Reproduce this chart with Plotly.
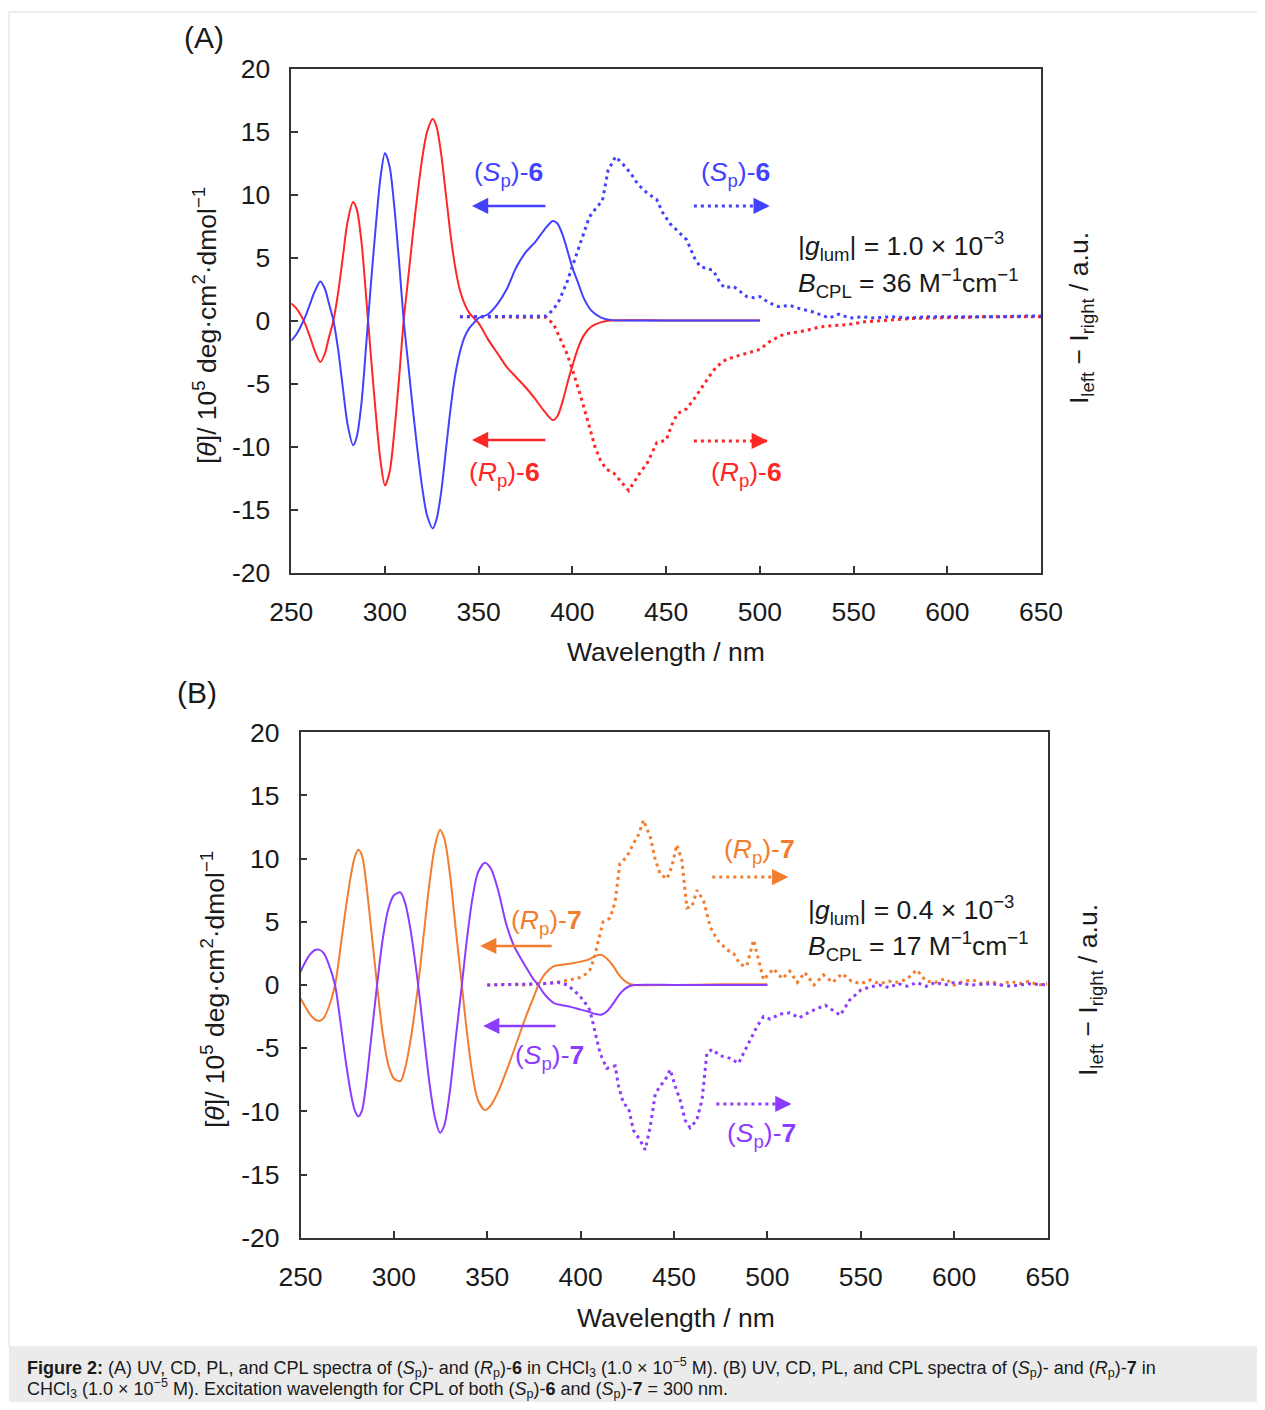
import plotly.graph_objects as go

# page is 1265x1410; the browser adds an 8px body margin, so the figure is made smaller
# and all page positions are converted to figure coordinates with an 8px offset
PAGE_W, PAGE_H, OFF = 1265, 1410, 8
W, H = PAGE_W - 2 * OFF, PAGE_H - 2 * OFF

# ---------------- data: panel A ----------------
cd6_wl = [250, 252.5, 255, 257.5, 260, 262.5, 265.5, 268, 270, 272.5, 275, 277.5, 280, 283, 285,
          287.5, 290, 292.5, 295, 297.5, 300, 302.5, 305, 307.5, 310, 312.5, 315, 317.5, 320, 322.5,
          325.5, 327.5, 330, 332.5, 335, 337.5, 340, 342.5, 345, 348, 350, 355, 360, 365, 370, 375,
          380, 385, 389.5, 392, 395, 398, 400, 403, 406, 410, 415, 420, 450, 475, 500]
cd_Rp6 = [1.35, 1.0, 0.45, -0.3, -1.3, -2.4, -3.3, -2.6, -1.4, 0.0, 2.2, 5.0, 7.8, 9.4, 8.8,
          6.2, 1.8, -2.8, -7.2, -11.0, -13.1, -12.0, -8.8, -4.6, 0.0, 3.5, 7.0, 10.2, 13.0, 15.0,
          16.0, 15.4, 13.2, 10.0, 6.8, 4.2, 2.4, 1.3, 0.6, 0.1, -0.2, -1.5, -2.6, -3.7, -4.5, -5.3,
          -6.2, -7.2, -7.9, -7.6, -6.3, -4.6, -3.6, -2.2, -1.2, -0.5, -0.15, 0.0, 0.0, 0.0, 0.0]
cd_Sp6 = [-1.6, -1.15, -0.5, 0.3, 1.3, 2.3, 3.1, 2.5, 1.4, 0.0, -2.3, -5.3, -8.2, -9.9, -9.2,
          -6.5, -1.9, 2.9, 7.3, 11.2, 13.3, 12.2, 9.0, 4.7, 0.0, -3.6, -7.2, -10.5, -13.4, -15.5,
          -16.5, -15.8, -13.6, -10.3, -7.0, -4.3, -2.5, -1.3, -0.6, -0.1, 0.2, 0.5, 1.3, 2.5, 4.2, 5.4,
          6.2, 7.2, 7.9, 7.7, 6.7, 5.2, 4.2, 3.0, 1.8, 0.8, 0.25, 0.05, 0.0, 0.0, 0.0]

cpl_Sp6_wl = [340, 350, 360, 370, 380, 386, 390, 393, 397, 400, 404, 409, 413, 416, 419, 423, 427,
              431, 435, 440, 445, 448, 452, 457, 461, 465, 468, 472, 475, 478, 481, 486, 490, 493,
              497, 500, 505, 510, 516, 522, 527, 532, 537, 542, 548, 555, 560, 570, 580, 590, 600,
              610, 620, 630, 640, 650]
cpl_Sp6 = [0.3, 0.3, 0.3, 0.3, 0.3, 0.35, 0.9, 1.6, 3.0, 4.3, 6.0, 8.2, 9.0, 9.5, 11.9, 13.0, 12.4,
           11.7, 10.8, 10.1, 9.6, 8.6, 7.7, 7.0, 6.4, 5.0, 4.3, 4.1, 4.0, 3.2, 2.6, 2.7, 2.2, 1.9,
           1.8, 1.9, 1.4, 1.1, 1.2, 0.9, 0.75, 0.5, 0.2, 0.5, 0.2, 0.3, 0.2, 0.3, 0.2, 0.3, 0.3,
           0.25, 0.3, 0.3, 0.35, 0.35]
cpl_Rp6_wl = [340, 350, 360, 370, 380, 386, 390, 393, 397, 400, 404, 409, 412, 415, 418, 422, 426,
              430, 433, 436, 440, 443, 445, 450, 453, 456, 461, 466, 469, 472, 475, 479, 482, 486,
              493, 500, 505, 511, 516, 521, 527, 532, 540, 548, 556, 564, 572, 580, 590, 600, 610,
              620, 630, 640, 650]
cpl_Rp6 = [0.3, 0.3, 0.3, 0.3, 0.3, 0.25, -0.3, -1.3, -2.6, -3.9, -5.8, -8.4, -10.0, -11.1, -11.8,
           -12.1, -12.8, -13.5, -12.8, -12.1, -11.3, -10.3, -9.7, -9.5, -8.3, -7.4, -7.0, -6.0, -5.3,
           -4.7, -4.0, -3.4, -3.1, -2.9, -2.6, -2.3, -1.7, -1.2, -1.0, -0.9, -0.7, -0.5, -0.4, -0.3,
           -0.1, 0.0, 0.1, 0.15, 0.2, 0.2, 0.25, 0.3, 0.3, 0.3, 0.3]

# ---------------- data: panel B ----------------
cd7_wl = [250, 252.5, 255, 257.5, 260, 262.5, 265, 268.5, 271, 274, 277, 279, 281, 283, 285, 288,
          291, 294, 297, 300, 303.5, 306, 309, 313, 316, 319, 322, 324.7, 327, 330, 333, 336.4, 339,
          342, 345, 348.8, 352, 356, 360, 364, 368, 372, 375, 377.4, 380, 383, 386, 390, 395, 400,
          404, 408, 411, 414, 417.5, 420, 423, 426, 429, 450, 475, 500]
cd_Rp7 = [-1.05, -1.7, -2.3, -2.7, -2.85, -2.6, -1.8, 0.0, 2.5, 5.8, 8.7, 10.1, 10.7, 10.2, 8.3, 4.2,
          0.0, -3.8, -6.3, -7.4, -7.6, -6.6, -4.3, 0.0, 4.0, 8.0, 11.0, 12.26, 11.6, 8.8, 4.6, 0.0, -3.6,
          -7.0, -9.1, -9.9, -9.5, -8.4, -6.9, -5.3, -3.6, -2.0, -0.9, 0.0, 0.7, 1.2, 1.5, 1.6, 1.7, 1.85,
          2.0, 2.3, 2.4, 2.1, 1.5, 0.9, 0.4, 0.1, 0.0, 0.0, 0.05, 0.05]
cd_Sp7 = [1.05, 1.8, 2.4, 2.75, 2.8, 2.5, 1.7, 0.0, -2.5, -5.8, -8.6, -9.9, -10.4, -9.9, -8.0, -4.0,
          0.0, 3.6, 6.0, 7.1, 7.33, 6.5, 4.3, 0.0, -3.9, -7.7, -10.5, -11.7, -11.1, -8.4, -4.4, 0.0, 3.5,
          6.8, 8.9, 9.68, 9.2, 7.4, 4.9, 3.2, 2.1, 1.1, 0.4, 0.0, -0.6, -1.1, -1.45, -1.6, -1.75, -1.95,
          -2.1, -2.3, -2.35, -2.1, -1.45, -0.9, -0.4, -0.1, 0.0, 0.0, 0.0, 0.0]

cpl_Rp7_wl = [350, 360, 370, 380, 386, 391, 396, 400, 403, 405, 407, 409.5, 412, 415.8, 418.5, 421,
              424.8, 428.3, 431, 433.7, 437.3, 440, 442.6, 446.2, 448.9, 451.5, 454.2, 456.9, 459.6,
              462.3, 465.8, 469.4, 473, 478.3, 481.9, 485.5, 489, 492.6, 496.2, 498, 503.3, 508, 512,
              516, 520, 525, 530, 535, 540, 545, 550, 555, 560, 565, 570, 575, 580, 585, 590, 595,
              600, 605, 610, 615, 620, 625, 630, 635, 640, 645, 650]
cpl_Rp7 = [0.0, 0.05, 0.0, 0.1, 0.2, 0.3, 0.5, 0.6, 0.9, 1.2, 2.0, 3.6, 5.0, 5.3, 6.6, 9.6,
           10.15, 11.2, 11.9, 13.05, 11.7, 9.9, 8.8, 8.4, 9.4, 11.1, 9.9, 6.1, 6.2,
           7.5, 6.7, 4.6, 3.6, 2.8, 2.5, 1.6, 1.5, 3.56, 1.5, 0.4, 1.3, 0.5, 1.1,
           0.2, 1.0, 0.0, 0.8, 0.2, 0.9, 0.3, 0.1, 0.4, 0.1, 0.3, 0.2, 0.5, 1.2, 0.3, 0.2, 0.5,
           0.0, 0.3, 0.4, 0.1, 0.3, 0.0, 0.3, 0.1, 0.3, 0.0, 0.1]
cpl_Sp7_wl = [350, 360, 370, 380, 388, 393, 397, 401.5, 405, 407.8, 410.4, 414, 418.5, 420.3, 423,
              425.6, 428.3, 431.9, 434.6, 437.3, 440, 442.6, 445.3, 448, 450.6, 453.3, 456, 458.6,
              462.2, 465, 467.6, 470.3, 474.8, 480.1, 484.6, 487.2, 490.8, 494.4, 497.9, 501.5,
              506.9, 512, 517, 523, 531, 539, 544, 550, 555, 560, 565, 570, 575, 580, 585, 590, 595,
              600, 610, 620, 630, 640, 650]
cpl_Sp7 = [0.0, 0.05, 0.05, 0.1, 0.2, 0.0, -0.5, -1.2, -2.0, -3.8, -5.4, -6.6, -6.4, -8.0, -9.4,
           -9.7, -11.5, -12.3, -13.05, -11.2, -8.6, -8.0, -7.5, -6.7, -8.0, -9.1, -10.7, -11.3,
           -10.7, -9.1, -5.4, -5.1, -5.6, -5.8, -6.2, -5.4, -4.35, -3.3, -2.5, -2.7,
           -2.3, -2.2, -2.6, -2.1, -1.6, -2.4, -1.2, -0.4, -0.15, 0.0, -0.2, 0.1, -0.1, 0.2, -0.1, 0.2, 0.0,
           0.2, 0.0, 0.1, -0.1, 0.1, 0.0]

x_tickvals = [250, 300, 350, 400, 450, 500, 550, 600, 650]
x_ticktext = ["250", "300", "350", "400", "450", "500", "550", "600", "650"]
y_tickvals = [-20, -15, -10, -5, 0, 5, 10, 15, 20]
y_ticktext = ["-20", "-15", "-10", "-5", "0", "5", "10", "15", "20"]

# ---------------- styles ----------------
BLUE = "#4141ff"
RED = "#ff2626"
ORANGE = "#f27d2e"
PURPLE = "#8c3cff"
AXC = "#333333"
TXT = "#1a1a1a"
FONT = "Liberation Sans, Arial, sans-serif"
FS = 26.5


def px(x):
    return (x - OFF) / W


def py(y):
    return 1 - (y - OFF) / H


fig = go.Figure()

solid = dict(width=2, shape="spline", smoothing=0.8)
dotted = dict(width=3, dash="3px,4px")

fig.add_trace(go.Scatter(x=cd6_wl, y=cd_Rp6, mode="lines", line=dict(color=RED, **solid), xaxis="x", yaxis="y"))
fig.add_trace(go.Scatter(x=cd6_wl, y=cd_Sp6, mode="lines", line=dict(color=BLUE, **solid), xaxis="x", yaxis="y"))
fig.add_trace(go.Scatter(x=cpl_Rp6_wl, y=cpl_Rp6, mode="lines", line=dict(color=RED, **dotted), xaxis="x", yaxis="y3"))
fig.add_trace(go.Scatter(x=cpl_Sp6_wl, y=cpl_Sp6, mode="lines", line=dict(color=BLUE, **dotted), xaxis="x", yaxis="y3"))

fig.add_trace(go.Scatter(x=cd7_wl, y=cd_Rp7, mode="lines", line=dict(color=ORANGE, **solid), xaxis="x2", yaxis="y2"))
fig.add_trace(go.Scatter(x=cd7_wl, y=cd_Sp7, mode="lines", line=dict(color=PURPLE, **solid), xaxis="x2", yaxis="y2"))
fig.add_trace(go.Scatter(x=cpl_Rp7_wl, y=cpl_Rp7, mode="lines", line=dict(color=ORANGE, **dotted), xaxis="x2", yaxis="y4"))
fig.add_trace(go.Scatter(x=cpl_Sp7_wl, y=cpl_Sp7, mode="lines", line=dict(color=PURPLE, **dotted), xaxis="x2", yaxis="y4"))

xcommon = dict(range=[250, 650], tickvals=x_tickvals, ticktext=x_ticktext, ticks="inside", ticklen=7,
               tickwidth=1.5, tickcolor=AXC, showline=True, linecolor=AXC, linewidth=1.5, mirror=True,
               showgrid=False, zeroline=False, tickfont=dict(size=FS, color=TXT, family=FONT),
               ticklabelstandoff=15, automargin=False)
ycommon = dict(range=[-20, 20], tickvals=y_tickvals, ticktext=y_ticktext, ticks="inside", ticklen=7,
               tickwidth=1.5, tickcolor=AXC, showline=True, linecolor=AXC, linewidth=1.5, mirror=True,
               showgrid=False, zeroline=False, tickfont=dict(size=FS, color=TXT, family=FONT),
               ticklabelstandoff=14, automargin=False)
yright = dict(range=[-20, 20], showticklabels=False, ticks="", showline=False, showgrid=False,
              zeroline=False, side="right", automargin=False)

fig.update_layout(
    width=W, height=H, margin=dict(l=0, r=0, t=0, b=0, pad=0, autoexpand=False),
    paper_bgcolor="white", plot_bgcolor="rgba(0,0,0,0)", showlegend=False,
    font=dict(family=FONT, size=FS, color=TXT),
    xaxis=dict(domain=[px(291.25), px(1041)], anchor="y", **xcommon),
    yaxis=dict(domain=[py(572.5), py(68.5)], anchor="x", **ycommon),
    yaxis3=dict(overlaying="y", anchor="x", **yright),
    xaxis2=dict(domain=[px(300.5), px(1047.5)], anchor="y2", **xcommon),
    yaxis2=dict(domain=[py(1237.7), py(732.3)], anchor="x2", **ycommon),
    yaxis4=dict(overlaying="y2", anchor="x2", **yright),
)

# page frame and caption band
fig.add_shape(type="rect", xref="paper", yref="paper", x0=px(9), x1=px(1300), y0=py(1347), y1=py(12),
              line=dict(color="#dcdcdc", width=1), fillcolor="rgba(0,0,0,0)", layer="below")
fig.add_shape(type="rect", xref="paper", yref="paper", x0=px(9), x1=px(1300), y0=py(1430), y1=py(1347),
              line=dict(width=0), fillcolor="#ebebeb", layer="below")

ann = []


def label(x, y, text, color=TXT, size=FS, xanchor="center", xref="paper", yref="paper", angle=0):
    ann.append(dict(x=x, y=y, xref=xref, yref=yref, text=text, showarrow=False, xanchor=xanchor,
                    yanchor="middle", textangle=angle, font=dict(size=size, color=color, family=FONT)))


# panel letters
label(px(204), py(38), "(A)", size=30)
label(px(197), py(692), "(B)", size=30)

ytitle = "[<i>θ</i>]/ 10<sup>5</sup> deg·cm<sup>2</sup>·dmol<sup>−1</sup>"
rtitle = "I<sub>left</sub> − I<sub>right</sub> / a.u."
label(px(205), py(326), ytitle, angle=-90)
label(px(1081), py(318), rtitle, angle=-90)
label(px(213), py(990), ytitle, angle=-90)
label(px(1090), py(990), rtitle, angle=-90)
label(px(666), py(652), "Wavelength / nm")
label(px(676), py(1318), "Wavelength / nm")

# series labels (data coordinates)
Sp6 = "(<i>S</i><sub>p</sub>)-<b>6</b>"
Rp6 = "(<i>R</i><sub>p</sub>)-<b>6</b>"
Sp7 = "(<i>S</i><sub>p</sub>)-<b>7</b>"
Rp7 = "(<i>R</i><sub>p</sub>)-<b>7</b>"
label(366, 11.6, Sp6, BLUE, xref="x", yref="y")
label(487, 11.6, Sp6, BLUE, xref="x", yref="y")
label(364, -12.2, Rp6, RED, xref="x", yref="y")
label(493, -12.2, Rp6, RED, xref="x", yref="y")
label(519.2, 5.9, "|<i>g</i><sub>lum</sub>| = 1.0 × 10<sup>−3</sup>", TXT, xanchor="left", xref="x", yref="y")
label(519.2, 3.0, "<i>B</i><sub>CPL</sub> = 36 M<sup>−1</sup>cm<sup>−1</sup>", TXT, xanchor="left", xref="x", yref="y")

label(495.6, 10.6, Rp7, ORANGE, xref="x2", yref="y2")
label(381.5, 5.0, Rp7, ORANGE, xref="x2", yref="y2")
label(383.1, -5.7, Sp7, PURPLE, xref="x2", yref="y2")
label(496.7, -11.9, Sp7, PURPLE, xref="x2", yref="y2")
label(520.8, 5.9, "|<i>g</i><sub>lum</sub>| = 0.4 × 10<sup>−3</sup>", TXT, xanchor="left", xref="x2", yref="y2")
label(520.8, 3.1, "<i>B</i><sub>CPL</sub> = 17 M<sup>−1</sup>cm<sup>−1</sup>", TXT, xanchor="left", xref="x2", yref="y2")


def arrow(xh, y, ax_px, color, xref, yref, dotted_shaft=False, xt=None):
    # head at (xh, y); tail ax_px pixels to the side
    if dotted_shaft:
        fig.add_shape(type="line", xref=xref, yref=yref, x0=xt, x1=xh, y0=y, y1=y,
                      line=dict(color=color, width=3, dash="3px,4px"))
    ann.append(dict(x=xh, y=y, xref=xref, yref=yref, ax=ax_px, ay=0, text="", showarrow=True,
                    arrowhead=2, arrowsize=1.3, arrowwidth=2.5, arrowcolor=color, standoff=0))


arrow(346.4, 9.09, 75, BLUE, "x", "y")
arrow(346.4, -9.48, 75, RED, "x", "y")
arrow(505.3, 9.09, -16, BLUE, "x", "y", True, 464.8)
arrow(504.3, -9.56, -16, RED, "x", "y", True, 464.8)

arrow(346.2, 3.09, 73, ORANGE, "x2", "y2")
arrow(347.8, -3.24, 74, PURPLE, "x2", "y2")
arrow(511.2, 8.54, -16, ORANGE, "x2", "y2", True, 470.5)
arrow(512.9, -9.41, -16, PURPLE, "x2", "y2", True, 472.7)

# caption
cap1 = ("<b>Figure 2:</b> (A) UV, CD, PL, and CPL spectra of (<i>S</i><sub>p</sub>)- and "
        "(<i>R</i><sub>p</sub>)-<b>6</b> in CHCl<sub>3</sub> (1.0 × 10<sup>−5</sup> M). (B) UV, CD, PL, "
        "and CPL spectra of (<i>S</i><sub>p</sub>)- and (<i>R</i><sub>p</sub>)-<b>7</b> in")
cap2 = ("CHCl<sub>3</sub> (1.0 × 10<sup>−5</sup> M). Excitation wavelength for CPL of both "
        "(<i>S</i><sub>p</sub>)-<b>6</b> and (<i>S</i><sub>p</sub>)-<b>7</b> = 300 nm.")
label(px(25), py(1367), cap1, "#1a1a1a", size=18, xanchor="left")
label(px(25), py(1388), cap2, "#1a1a1a", size=18, xanchor="left")

fig.update_layout(annotations=ann)
fig.write_html("out.html")
